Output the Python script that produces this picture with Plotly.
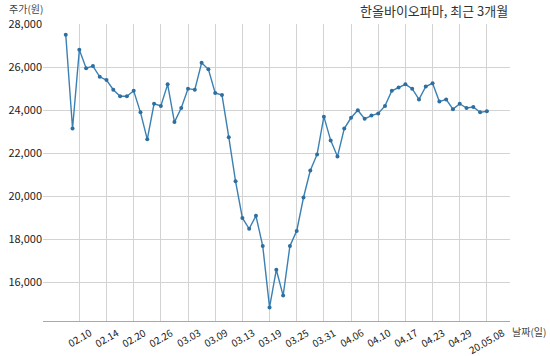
import plotly.graph_objects as go

dates = [
    "02.06", "02.07", "02.10", "02.11", "02.12", "02.13", "02.14", "02.17", "02.18", "02.19",
    "02.20", "02.21", "02.24", "02.25", "02.26", "02.27", "02.28",
    "03.02", "03.03", "03.04", "03.05", "03.06", "03.09", "03.10", "03.11", "03.12", "03.13",
    "03.16", "03.17", "03.18", "03.19", "03.20", "03.23", "03.24", "03.25", "03.26", "03.27",
    "03.30", "03.31",
    "04.01", "04.02", "04.03", "04.06", "04.07", "04.08", "04.09", "04.10", "04.13", "04.14",
    "04.16", "04.17", "04.20", "04.21", "04.22", "04.23", "04.24", "04.27", "04.28", "04.29",
    "05.04", "05.06", "05.07", "05.08",
]

prices = [
    27500, 23150, 26800, 25950, 26050, 25550, 25400, 24950, 24650, 24650,
    24900, 23900, 22650, 24300, 24200, 25200, 23450,
    24100, 25000, 24950, 26200, 25900, 24800, 24700, 22750, 20700, 19000,
    18500, 19100, 17700, 14850, 16600, 15400, 17700, 18400, 19950, 21200,
    21950, 23700,
    22600, 21850, 23150, 23650, 24000, 23600, 23750, 23850, 24200, 24900,
    25050, 25200, 25000, 24500, 25100, 25250, 24400, 24500, 24050, 24300,
    24100, 24150, 23900, 23950,
]

tick_dates = ["02.10", "02.14", "02.20", "02.26", "03.03", "03.09", "03.13", "03.19",
              "03.25", "03.31", "04.06", "04.10", "04.17", "04.23", "04.29", "05.08"]
tick_text = ["02.10", "02.14", "02.20", "02.26", "03.03", "03.09", "03.13", "03.19",
             "03.25", "03.31", "04.06", "04.10", "04.17", "04.23", "04.29", "20.05.08"]

y_ticks = [16000, 18000, 20000, 22000, 24000, 26000, 28000]
y_text = ["16,000", "18,000", "20,000", "22,000", "24,000", "26,000", "28,000"]

FONT = "Noto Sans CJK KR"
LINE = "#3b80b3"

fig = go.Figure()
fig.add_trace(go.Scatter(
    x=dates, y=prices, mode="lines+markers",
    line=dict(color=LINE, width=1.4),
    marker=dict(color="#2f6f9f", size=4),
    hoverinfo="x+y",
))

# x tick labels: centred under each gridline and rotated about their centre
xlabels = [
    dict(text=t, x=dates.index(d), xref="x", y=0, yref="paper",
         xanchor="center", yanchor="top",
         textangle=-30, yshift=-1, showarrow=False,
         font=dict(family=FONT, size=10, color="#222"))
    for d, t in zip(tick_dates, tick_text)
]

fig.update_layout(
    width=550, height=356,
    margin=dict(l=43, r=40, t=24, b=35),
    paper_bgcolor="white", plot_bgcolor="white",
    showlegend=False,
    font=dict(family=FONT, size=11, color="#222"),
    xaxis=dict(
        type="category", automargin=False,
        categoryorder="array", categoryarray=dates,
        range=[-3.35, 65.4],
        tickmode="array", tickvals=tick_dates, ticktext=tick_text,
        showticklabels=False,
        showgrid=True, gridcolor="#d3d3d3", gridwidth=1,
        showline=True, linecolor="#a8a8a8", linewidth=1,
        ticks="", zeroline=False,
    ),
    yaxis=dict(
        range=[14220, 28000], automargin=False,
        tickmode="array", tickvals=y_ticks, ticktext=y_text,
        showgrid=True, gridcolor="#d3d3d3", gridwidth=1,
        showline=False, zeroline=False, ticks="",
        tickfont=dict(family=FONT, size=11, color="#222"),
    ),
    annotations=xlabels + [
        dict(text="한올바이오파마, 최근 3개월", xref="paper", yref="paper",
             x=1.0, y=1.0, xanchor="right", yanchor="bottom", yshift=2, showarrow=False,
             font=dict(family=FONT, size=13, color="#333")),
        dict(text="주가(원)", xref="paper", yref="paper",
             x=0, y=1.0, xanchor="right", yanchor="bottom", xshift=2, yshift=6, showarrow=False,
             font=dict(family=FONT, size=10, color="#444")),
        dict(text="날짜(일)", xref="paper", yref="paper",
             x=1.0, y=0, xanchor="left", yanchor="top", xshift=0, yshift=-1, showarrow=False,
             font=dict(family=FONT, size=10, color="#444")),
    ],
)

fig.write_html(
    "out.html",
    config={"displayModeBar": False},
    post_script="document.body.style.margin='0';document.body.style.overflow='hidden';",
)
